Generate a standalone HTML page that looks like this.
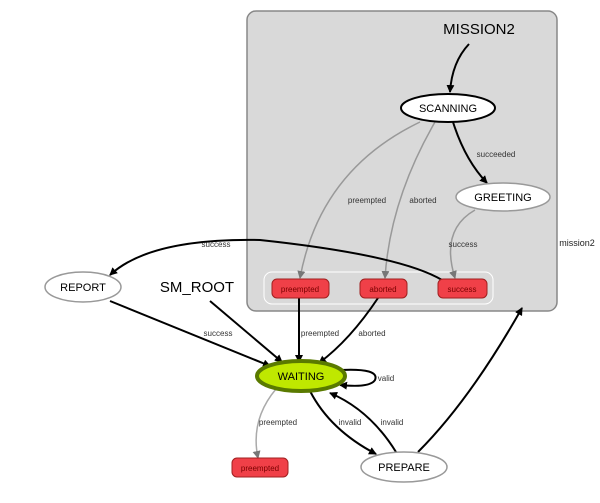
<html><body style="margin:0;background:#fff">
<svg width="600" height="503" xmlns="http://www.w3.org/2000/svg" font-family="Liberation Sans, DejaVu Sans, sans-serif">
<defs>
<marker id="a" markerWidth="8" markerHeight="8" refX="7" refY="4" orient="auto" markerUnits="userSpaceOnUse"><path d="M0,0 L8,4 L0,8z" fill="#000"/></marker>
<marker id="g" markerWidth="8" markerHeight="8" refX="7" refY="4" orient="auto" markerUnits="userSpaceOnUse"><path d="M0,0 L8,4 L0,8z" fill="#777"/></marker>
</defs>
<rect x="247" y="11" width="310" height="300" rx="9" fill="#d9d9d9" stroke="#888" stroke-width="1.5"/>
<rect x="264" y="272" width="229" height="32" rx="8" fill="none" stroke="#fff" stroke-width="1"/>
<text x="479" y="34" font-size="15" text-anchor="middle">MISSION2</text>
<text x="577" y="246" font-size="9" text-anchor="middle" fill="#222">mission2</text>
<g fill="none" stroke-width="1.5">
<path d="M469,44 Q452,62 450,92" stroke="#000" stroke-width="2" marker-end="url(#a)"/>
<path d="M420,122 Q320,170 300,278" stroke="#999" marker-end="url(#g)"/>
<path d="M435,122 Q390,200 385,278" stroke="#999" marker-end="url(#g)"/>
<path d="M453,122 Q465,160 487,183" stroke="#000" stroke-width="2" marker-end="url(#a)"/>
<path d="M475,210 Q440,230 455,278" stroke="#999" marker-end="url(#g)"/>
<path d="M442,280 Q400,255 260,240 Q150,238 110,275" stroke="#000" stroke-width="2" marker-end="url(#a)"/>
<path d="M110,301 L270,366" stroke="#000" stroke-width="2" marker-end="url(#a)"/>
<path d="M210,301 L282,362" stroke="#000" stroke-width="2" marker-end="url(#a)"/>
<path d="M299,298 L299,362" stroke="#000" stroke-width="2" marker-end="url(#a)"/>
<path d="M378,298 Q350,340 319,363" stroke="#000" stroke-width="2" marker-end="url(#a)"/>
<path d="M340,370 Q380,368 375,380 Q370,388 340,385" stroke="#000" stroke-width="2" marker-end="url(#a)"/>
<path d="M276,389 Q250,420 258,458" stroke="#aaa" marker-end="url(#g)"/>
<path d="M310,391 Q330,430 376,454" stroke="#000" stroke-width="2" marker-end="url(#a)"/>
<path d="M396,452 Q370,410 330,393" stroke="#000" stroke-width="2" marker-end="url(#a)"/>
<path d="M418,452 Q470,400 522,308" stroke="#000" stroke-width="2" marker-end="url(#a)"/>
</g>
<g font-size="8" fill="#333" text-anchor="middle">
<text x="367" y="203">preempted</text><text x="423" y="203">aborted</text>
<text x="496" y="157">succeeded</text><text x="463" y="247">success</text>
<text x="216" y="247">success</text><text x="218" y="336">success</text>
<text x="320" y="336">preempted</text><text x="372" y="336">aborted</text>
<text x="386" y="381">valid</text><text x="278" y="425">preempted</text>
<text x="350" y="425">invalid</text><text x="392" y="425">invalid</text>
</g>
<ellipse cx="448" cy="108" rx="47" ry="14" fill="#fff" stroke="#000" stroke-width="2"/>
<text x="448" y="112" font-size="11" text-anchor="middle">SCANNING</text>
<ellipse cx="503" cy="197" rx="47" ry="14" fill="#fff" stroke="#999" stroke-width="1.5"/>
<text x="503" y="201" font-size="11" text-anchor="middle">GREETING</text>
<g fill="#f04048" stroke="#a02020" stroke-width="1">
<rect x="272" y="279" width="57" height="19" rx="5"/><rect x="360" y="279" width="47" height="19" rx="5"/><rect x="438" y="279" width="49" height="19" rx="5"/><rect x="232" y="458" width="56" height="19" rx="5"/>
</g>
<g font-size="8" fill="#7a0000" text-anchor="middle">
<text x="300" y="292">preempted</text><text x="383" y="292">aborted</text><text x="462" y="292">success</text><text x="260" y="471">preempted</text>
</g>
<ellipse cx="83" cy="287" rx="38" ry="15" fill="#fff" stroke="#999" stroke-width="1.5"/>
<text x="83" y="291" font-size="11" text-anchor="middle">REPORT</text>
<text x="197" y="292" font-size="15" text-anchor="middle">SM_ROOT</text>
<ellipse cx="301" cy="376" rx="44" ry="15" fill="#bfe800" stroke="#5a7a00" stroke-width="4"/>
<text x="301" y="380" font-size="11" text-anchor="middle">WAITING</text>
<ellipse cx="404" cy="467" rx="43" ry="15" fill="#fff" stroke="#999" stroke-width="1.5"/>
<text x="404" y="471" font-size="11" text-anchor="middle">PREPARE</text>
</svg>
</body></html>
